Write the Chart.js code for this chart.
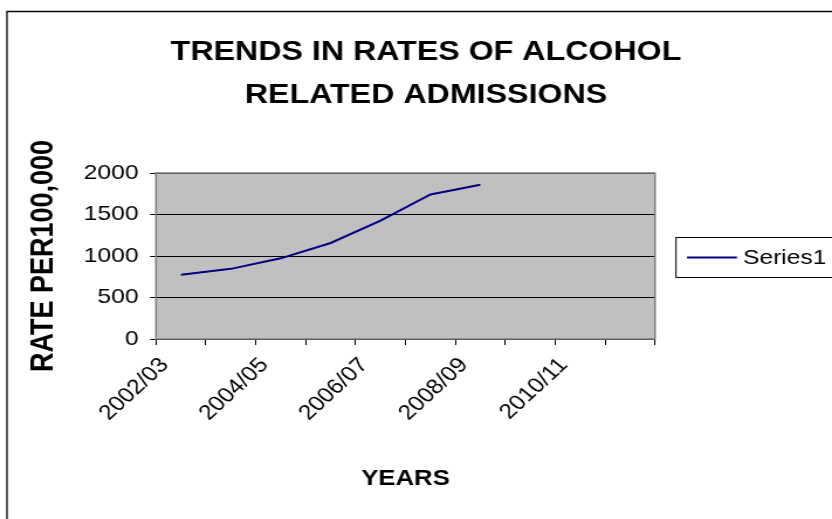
<!DOCTYPE html>
<html>
<head>
<meta charset="utf-8">
<script src="https://cdn.jsdelivr.net/npm/chart.js@4"></script>
<style>
  html, body { margin: 0; padding: 0; background: #fff; }
  /* the reference is stretched sideways ~1.17x, so draw narrow and stretch */
  #chart { width: 832px; height: 519px; }
</style>
</head>
<body>
<canvas id="chart" width="711" height="519" style="width:832px;height:519px"></canvas>
<script>
// data
const years = ['2002/03', '2003/04', '2004/05', '2005/06', '2006/07',
               '2007/08', '2008/09', '2009/10', '2010/11', '2011/12'];
const series1 = [773, 845, 972, 1157, 1425, 1742, 1859];
const yTicks = [0, 500, 1000, 1500, 2000];
const titleLines = ['TRENDS IN RATES OF ALCOHOL', 'RELATED ADMISSIONS'];

const FONT = '"Liberation Sans", Arial, sans-serif';
const SX = 711 / 832;   // picture x -> canvas x

// grey plot area + outer frame + title + boxed legend, Excel style
const excelLook = {
    id: 'excelLook',
    beforeDraw(chart) {
        const { ctx, chartArea: a } = chart;
        ctx.save();
        ctx.fillStyle = '#c0c0c0';
        ctx.fillRect(a.left, a.top, a.right - a.left, a.bottom - a.top);
        ctx.restore();
    },
    afterDraw(chart) {
        const { ctx, chartArea: a } = chart;
        ctx.save();
        // plot border
        ctx.strokeStyle = '#808080';
        ctx.lineWidth = 1.5;
        ctx.strokeRect(a.left, a.top, a.right - a.left, a.bottom - a.top);

        // outer frame (right/bottom edges run off the picture)
        ctx.strokeStyle = '#000';
        ctx.lineWidth = 1.3;
        ctx.beginPath();
        ctx.moveTo(7 * SX, 519);
        ctx.lineTo(7 * SX, 11.5);
        ctx.lineTo(chart.width, 11.5);
        ctx.stroke();

        // title
        ctx.fillStyle = '#000';
        ctx.font = 'bold 27.5px ' + FONT;
        ctx.textAlign = 'center';
        ctx.textBaseline = 'alphabetic';
        titleLines.forEach((t, i) => ctx.fillText(t, 426 * SX, 60 + i * 43));

        // legend box
        const ds = chart.data.datasets[0];
        ctx.strokeStyle = '#000';
        ctx.lineWidth = 1;
        ctx.strokeRect(676 * SX, 237.5, 200, 40);
        ctx.strokeStyle = ds.borderColor;
        ctx.lineWidth = 2;
        ctx.beginPath();
        ctx.moveTo(687 * SX, 257.5);
        ctx.lineTo(737 * SX, 257.5);
        ctx.stroke();
        ctx.font = '21px ' + FONT;
        ctx.textAlign = 'left';
        ctx.textBaseline = 'middle';
        ctx.fillText(ds.label, 743 * SX, 258);
        ctx.restore();
    }
};

new Chart(document.getElementById('chart'), {
    type: 'line',
    data: {
        labels: years,
        datasets: [{
            label: 'Series1',
            data: series1,
            borderColor: '#000080',
            borderWidth: 2,
            pointRadius: 0,
            tension: 0,
            fill: false,
        }]
    },
    options: {
        responsive: false,
        animation: false,
        layout: { padding: { top: 173, left: 21, right: 711 - 655 * SX, bottom: 12 } },
        plugins: {
            legend: { display: false },
            title: { display: false },
            tooltip: { enabled: false },
        },
        scales: {
            x: {
                offset: true,
                afterFit: s => { s.height = 168; },
                grid: { offset: true, drawOnChartArea: false, drawTicks: true, tickLength: 6, color: '#000' },
                border: { display: false },
                ticks: {
                    autoSkip: false, maxRotation: 47, minRotation: 47,
                    color: '#000', font: { family: FONT, size: 21 }, padding: 8,
                    labelOffset: -14,
                    callback: (v, i) => (i % 2 === 0 ? years[i] : ''),
                },
                title: {
                    display: true, text: 'YEARS', color: '#000',
                    font: { family: FONT, size: 22, weight: 'bold' }, padding: { top: 0, bottom: 15 },
                },
            },
            y: {
                min: 0, max: 2000,
                afterFit: s => { s.width = 156 * SX - 21; },
                afterBuildTicks: s => { s.ticks = yTicks.map(v => ({ value: v })); },
                grid: { color: '#000', lineWidth: 1, tickLength: 5 },
                border: { display: false },
                ticks: {
                    color: '#000', font: { family: FONT, size: 21 }, padding: 10,
                    callback: v => String(v),
                },
                title: {
                    display: true, text: 'RATE PER100,000', color: '#000',
                    font: { family: FONT, size: 27, weight: 'bold' }, padding: 0,
                },
            },
        },
    },
    plugins: [excelLook],
});
</script>
</body>
</html>
